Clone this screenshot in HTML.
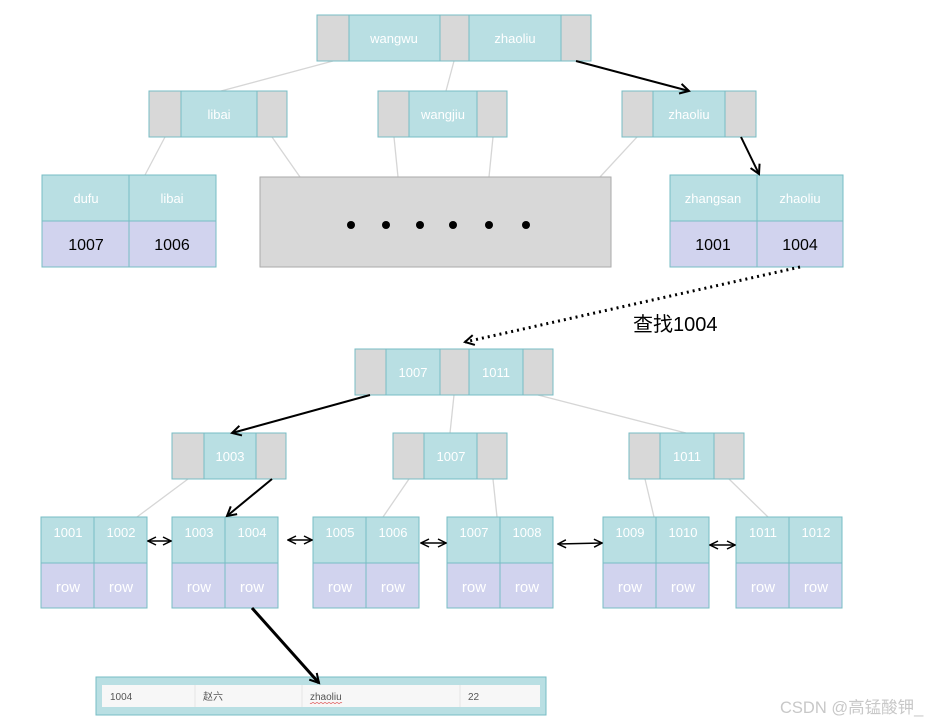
<!DOCTYPE html>
<html><head><meta charset="utf-8"><style>
html,body{margin:0;padding:0;background:#fff;}
svg{display:block;}
.w{fill:#fff;font-family:"Liberation Sans",sans-serif;font-size:13px;text-anchor:middle;}
.r{fill:#fff;font-family:"Liberation Sans",sans-serif;font-size:15px;text-anchor:middle;}
.k{fill:#000;font-family:"Liberation Sans",sans-serif;font-size:16px;text-anchor:middle;}
.t{fill:#555;font-family:"Liberation Sans","Noto Sans CJK SC",sans-serif;font-size:10px;}
</style></head><body>
<svg width="930" height="721" viewBox="0 0 930 721" xmlns="http://www.w3.org/2000/svg">
<defs>
<marker id="a" markerWidth="12" markerHeight="12" refX="10" refY="6" orient="auto" markerUnits="userSpaceOnUse"><path d="M1,1 L10,6 L1,11" fill="none" stroke="#000" stroke-width="2"/></marker>
<marker id="as" markerWidth="10" markerHeight="10" refX="9" refY="5" orient="auto-start-reverse" markerUnits="userSpaceOnUse"><path d="M1,1 L9,5 L1,9" fill="none" stroke="#000" stroke-width="1.5"/></marker>
</defs>
<g stroke="#d6d6d6" stroke-width="1.3">
<line x1="333" y1="61" x2="221" y2="91"/><line x1="454" y1="61" x2="446" y2="91"/>
<line x1="165" y1="137" x2="145" y2="175"/><line x1="272" y1="137" x2="300" y2="177"/>
<line x1="394" y1="137" x2="398" y2="177"/><line x1="493" y1="137" x2="489" y2="177"/>
<line x1="637" y1="137" x2="600" y2="177"/>
<line x1="454" y1="395" x2="450" y2="433"/><line x1="538" y1="395" x2="686" y2="433"/>
<line x1="188" y1="479" x2="137" y2="517"/><line x1="409" y1="479" x2="383" y2="517"/>
<line x1="493" y1="479" x2="497" y2="517"/><line x1="645" y1="479" x2="654" y2="517"/>
<line x1="729" y1="479" x2="768" y2="517"/>
</g>
<g stroke="#77bcc4" stroke-width="1">
<rect x="317" y="15" width="32" height="46" fill="#d8d8d8"/><rect x="349" y="15" width="91" height="46" fill="#b9dfe3"/>
<rect x="440" y="15" width="29" height="46" fill="#d8d8d8"/><rect x="469" y="15" width="92" height="46" fill="#b9dfe3"/>
<rect x="561" y="15" width="30" height="46" fill="#d8d8d8"/>
<rect x="149" y="91" width="32" height="46" fill="#d8d8d8"/><rect x="181" y="91" width="76" height="46" fill="#b9dfe3"/><rect x="257" y="91" width="30" height="46" fill="#d8d8d8"/>
<rect x="378" y="91" width="31" height="46" fill="#d8d8d8"/><rect x="409" y="91" width="68" height="46" fill="#b9dfe3"/><rect x="477" y="91" width="30" height="46" fill="#d8d8d8"/>
<rect x="622" y="91" width="31" height="46" fill="#d8d8d8"/><rect x="653" y="91" width="72" height="46" fill="#b9dfe3"/><rect x="725" y="91" width="31" height="46" fill="#d8d8d8"/>
<rect x="42" y="175" width="87" height="46" fill="#b9dfe3"/><rect x="129" y="175" width="87" height="46" fill="#b9dfe3"/>
<rect x="42" y="221" width="87" height="46" fill="#d1d3ee"/><rect x="129" y="221" width="87" height="46" fill="#d1d3ee"/>
<rect x="670" y="175" width="87" height="46" fill="#b9dfe3"/><rect x="757" y="175" width="86" height="46" fill="#b9dfe3"/>
<rect x="670" y="221" width="87" height="46" fill="#d1d3ee"/><rect x="757" y="221" width="86" height="46" fill="#d1d3ee"/>
<rect x="260" y="177" width="351" height="90" fill="#d8d8d8" stroke="#aaa"/>
<rect x="355" y="349" width="31" height="46" fill="#d8d8d8"/><rect x="386" y="349" width="54" height="46" fill="#b9dfe3"/>
<rect x="440" y="349" width="29" height="46" fill="#d8d8d8"/><rect x="469" y="349" width="54" height="46" fill="#b9dfe3"/>
<rect x="523" y="349" width="30" height="46" fill="#d8d8d8"/>
<rect x="172" y="433" width="32" height="46" fill="#d8d8d8"/><rect x="204" y="433" width="52" height="46" fill="#b9dfe3"/><rect x="256" y="433" width="30" height="46" fill="#d8d8d8"/>
<rect x="393" y="433" width="31" height="46" fill="#d8d8d8"/><rect x="424" y="433" width="53" height="46" fill="#b9dfe3"/><rect x="477" y="433" width="30" height="46" fill="#d8d8d8"/>
<rect x="629" y="433" width="31" height="46" fill="#d8d8d8"/><rect x="660" y="433" width="54" height="46" fill="#b9dfe3"/><rect x="714" y="433" width="30" height="46" fill="#d8d8d8"/>
<g id="lf">
<rect x="41" y="517" width="53" height="46" fill="#b9dfe3"/><rect x="94" y="517" width="53" height="46" fill="#b9dfe3"/>
<rect x="41" y="563" width="53" height="45" fill="#d1d3ee"/><rect x="94" y="563" width="53" height="45" fill="#d1d3ee"/>
</g>
<use href="#lf" x="131"/><use href="#lf" x="272"/><use href="#lf" x="406"/><use href="#lf" x="562"/><use href="#lf" x="695"/>
<rect x="96" y="677" width="450" height="38" fill="#b9dfe3"/>
</g>
<rect x="102" y="685" width="438" height="22" fill="#f7f7f7"/>
<g stroke="#e6e6e6"><line x1="195" y1="685" x2="195" y2="707"/><line x1="302" y1="685" x2="302" y2="707"/><line x1="460" y1="685" x2="460" y2="707"/></g>
<text class="t" x="110" y="700">1004</text><text class="t" x="203" y="700">赵六</text><text class="t" x="310" y="700">zhaoliu</text><text class="t" x="468" y="700">22</text>
<path d="M310,703 q1,1 2,0 q1,-1 2,0 q1,1 2,0 q1,-1 2,0 q1,1 2,0 q1,-1 2,0 q1,1 2,0 q1,-1 2,0 q1,1 2,0 q1,-1 2,0 q1,1 2,0 q1,-1 2,0 q1,1 2,0 q1,-1 2,0 q1,1 2,0 q1,-1 2,0" fill="none" stroke="#e06060" stroke-width="0.8"/>
<g fill="#000"><circle cx="351" cy="225" r="4"/><circle cx="386" cy="225" r="4"/><circle cx="420" cy="225" r="4"/><circle cx="453" cy="225" r="4"/><circle cx="489" cy="225" r="4"/><circle cx="526" cy="225" r="4"/></g>
<text class="w" x="394" y="43">wangwu</text><text class="w" x="515" y="43">zhaoliu</text>
<text class="w" x="219" y="119">libai</text><text class="w" x="443" y="119">wangjiu</text><text class="w" x="689" y="119">zhaoliu</text>
<text class="w" x="86" y="203">dufu</text><text class="w" x="172" y="203">libai</text>
<text class="w" x="713" y="203">zhangsan</text><text class="w" x="800" y="203">zhaoliu</text>
<text class="k" x="86" y="250">1007</text><text class="k" x="172" y="250">1006</text>
<text class="k" x="713" y="250">1001</text><text class="k" x="800" y="250">1004</text>
<text x="633" y="331" style="font-family:'Liberation Sans','Noto Sans CJK SC',sans-serif;font-size:20px;fill:#000">查找1004</text>
<text class="w" x="413" y="377">1007</text><text class="w" x="496" y="377">1011</text>
<text class="w" x="230" y="461">1003</text><text class="w" x="451" y="461">1007</text><text class="w" x="687" y="461">1011</text>
<text class="w" x="68" y="537">1001</text><text class="w" x="121" y="537">1002</text>
<text class="w" x="199" y="537">1003</text><text class="w" x="252" y="537">1004</text>
<text class="w" x="340" y="537">1005</text><text class="w" x="393" y="537">1006</text>
<text class="w" x="474" y="537">1007</text><text class="w" x="527" y="537">1008</text>
<text class="w" x="630" y="537">1009</text><text class="w" x="683" y="537">1010</text>
<text class="w" x="763" y="537">1011</text><text class="w" x="816" y="537">1012</text>
<text class="r" x="68" y="592">row</text><text class="r" x="121" y="592">row</text>
<text class="r" x="199" y="592">row</text><text class="r" x="252" y="592">row</text>
<text class="r" x="340" y="592">row</text><text class="r" x="393" y="592">row</text>
<text class="r" x="474" y="592">row</text><text class="r" x="527" y="592">row</text>
<text class="r" x="630" y="592">row</text><text class="r" x="683" y="592">row</text>
<text class="r" x="763" y="592">row</text><text class="r" x="816" y="592">row</text>
<g stroke="#000" fill="none">
<line x1="576" y1="61" x2="689" y2="91" stroke-width="2" marker-end="url(#a)"/>
<line x1="741" y1="137" x2="759" y2="174" stroke-width="2" marker-end="url(#a)"/>
<line x1="800" y1="267" x2="465" y2="342" stroke-width="3" stroke-dasharray="2,4" marker-end="url(#a)"/>
<line x1="370" y1="395" x2="232" y2="433" stroke-width="2" marker-end="url(#a)"/>
<line x1="272" y1="479" x2="227" y2="516" stroke-width="2" marker-end="url(#a)"/>
<line x1="252" y1="608" x2="319" y2="683" stroke-width="3" marker-end="url(#a)"/>
<line x1="148" y1="541" x2="171" y2="541" stroke-width="1.5" marker-start="url(#as)" marker-end="url(#as)"/>
<line x1="288" y1="540" x2="312" y2="540" stroke-width="1.5" marker-start="url(#as)" marker-end="url(#as)"/>
<line x1="421" y1="543" x2="446" y2="543" stroke-width="1.5" marker-start="url(#as)" marker-end="url(#as)"/>
<line x1="558" y1="544" x2="602" y2="543" stroke-width="1.5" marker-start="url(#as)" marker-end="url(#as)"/>
<line x1="710" y1="545" x2="735" y2="545" stroke-width="1.5" marker-start="url(#as)" marker-end="url(#as)"/>
</g>
<text x="780" y="713" style="font-family:'Liberation Sans','Noto Sans CJK SC',sans-serif;font-size:16.5px;fill:#c8c8c8">CSDN @高锰酸钾_</text>
</svg>
</body></html>
